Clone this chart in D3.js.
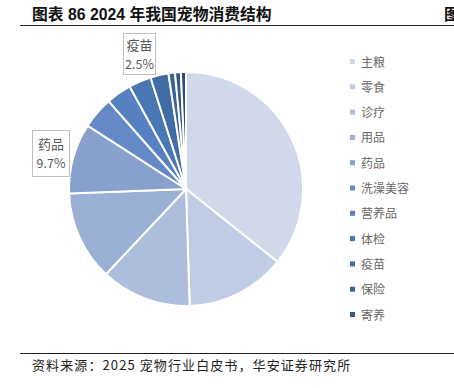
<!DOCTYPE html>
<html><head><meta charset="utf-8">
<script src="https://cdn.jsdelivr.net/npm/d3@7"></script>
<style>body{margin:0;background:#fff;}svg{display:block;}</style>
</head><body>
<svg id="c" width="454" height="388"></svg>
<script>
const categories = ["主粮","零食","诊疗","用品","药品","洗澡美容","营养品","体检","疫苗","保险","寄养","其他"];
const values = [35.7,13.8,12.5,12.4,9.7,4.4,3.5,3.1,2.5,0.9,0.8,0.7];
const colors = ["#D0D8EA","#BFCCE4","#ADBDDC","#9AAFD4","#87A0CC","#6489C6","#5580C1","#4A76B3","#416CA5","#3A6298","#33588A","#2C4D7C"];
const legendItems = categories.slice(0,11);
const calloutIdx = [4,8];

const svg = d3.select("#c");
// title
svg.append("text").attr("x",32).attr("y",19.5).attr("font-family","'Liberation Sans','Noto Sans CJK SC',sans-serif")
  .attr("font-weight","bold").attr("font-size",15.8).attr("fill","#111").text("图表 86 2024 年我国宠物消费结构");
svg.append("text").attr("x",444).attr("y",19.5).attr("font-family","'Noto Sans CJK SC',sans-serif")
  .attr("font-weight","bold").attr("font-size",15.8).attr("fill","#111").text("图");
svg.append("line").attr("x1",20).attr("x2",454).attr("y1",25.5).attr("y2",25.5).attr("stroke","#222").attr("stroke-width",1.2);
svg.append("line").attr("x1",20).attr("x2",454).attr("y1",353.5).attr("y2",353.5).attr("stroke","#222").attr("stroke-width",1.2);
svg.append("text").attr("x",32).attr("y",370).attr("font-family","'Noto Sans CJK SC','DejaVu Serif',sans-serif")
  .attr("font-size",13).attr("letter-spacing",1.1).attr("fill","#222").text("资料来源：2025 宠物行业白皮书，华安证券研究所");

const cx=186, cy=189, r=117;
const pie = d3.pie().sort(null).value(d=>d)(values);
const arc = d3.arc().innerRadius(0).outerRadius(r);
const g = svg.append("g").attr("transform",`translate(${cx},${cy})`);
g.selectAll("path").data(pie).join("path").attr("d",arc)
  .attr("fill",(d,i)=>colors[i]).attr("stroke","#fff").attr("stroke-width",2);

// callouts
const boxes = {4:{x:32,y:130,w:37,h:46}, 8:{x:123,y:33,w:32,h:41}};
calloutIdx.forEach(i=>{
  const b = boxes[i];
  svg.append("rect").attr("x",b.x+0.5).attr("y",b.y+0.5).attr("width",b.w).attr("height",b.h)
    .attr("fill","#fff").attr("stroke","#BFBFBF").attr("stroke-width",1);
  svg.append("text").attr("x",b.x+b.w/2+0.5).attr("y",b.y+b.h/2-4).attr("text-anchor","middle")
    .attr("font-family","'Noto Sans CJK SC',sans-serif").attr("font-size",13).attr("fill","#595959").text(categories[i]);
  svg.append("text").attr("x",b.x+b.w/2+0.5).attr("y",b.y+b.h/2+15).attr("text-anchor","middle")
    .attr("font-family","'Noto Sans CJK SC',sans-serif").attr("font-size",12.5).attr("fill","#595959").text(values[i].toFixed(1)+"%");
});

// legend
const ly = d3.scalePoint().domain(legendItems).range([62,315]);
const lg = svg.append("g");
legendItems.forEach((c,i)=>{
  lg.append("rect").attr("x",350).attr("y",ly(c)-3).attr("width",5).attr("height",5).attr("fill",colors[i]);
  lg.append("text").attr("x",361).attr("y",ly(c)+4.5).attr("font-family","'Noto Sans CJK SC',sans-serif")
    .attr("font-size",12).attr("fill","#666").text(c);
});
</script>
</body></html>
